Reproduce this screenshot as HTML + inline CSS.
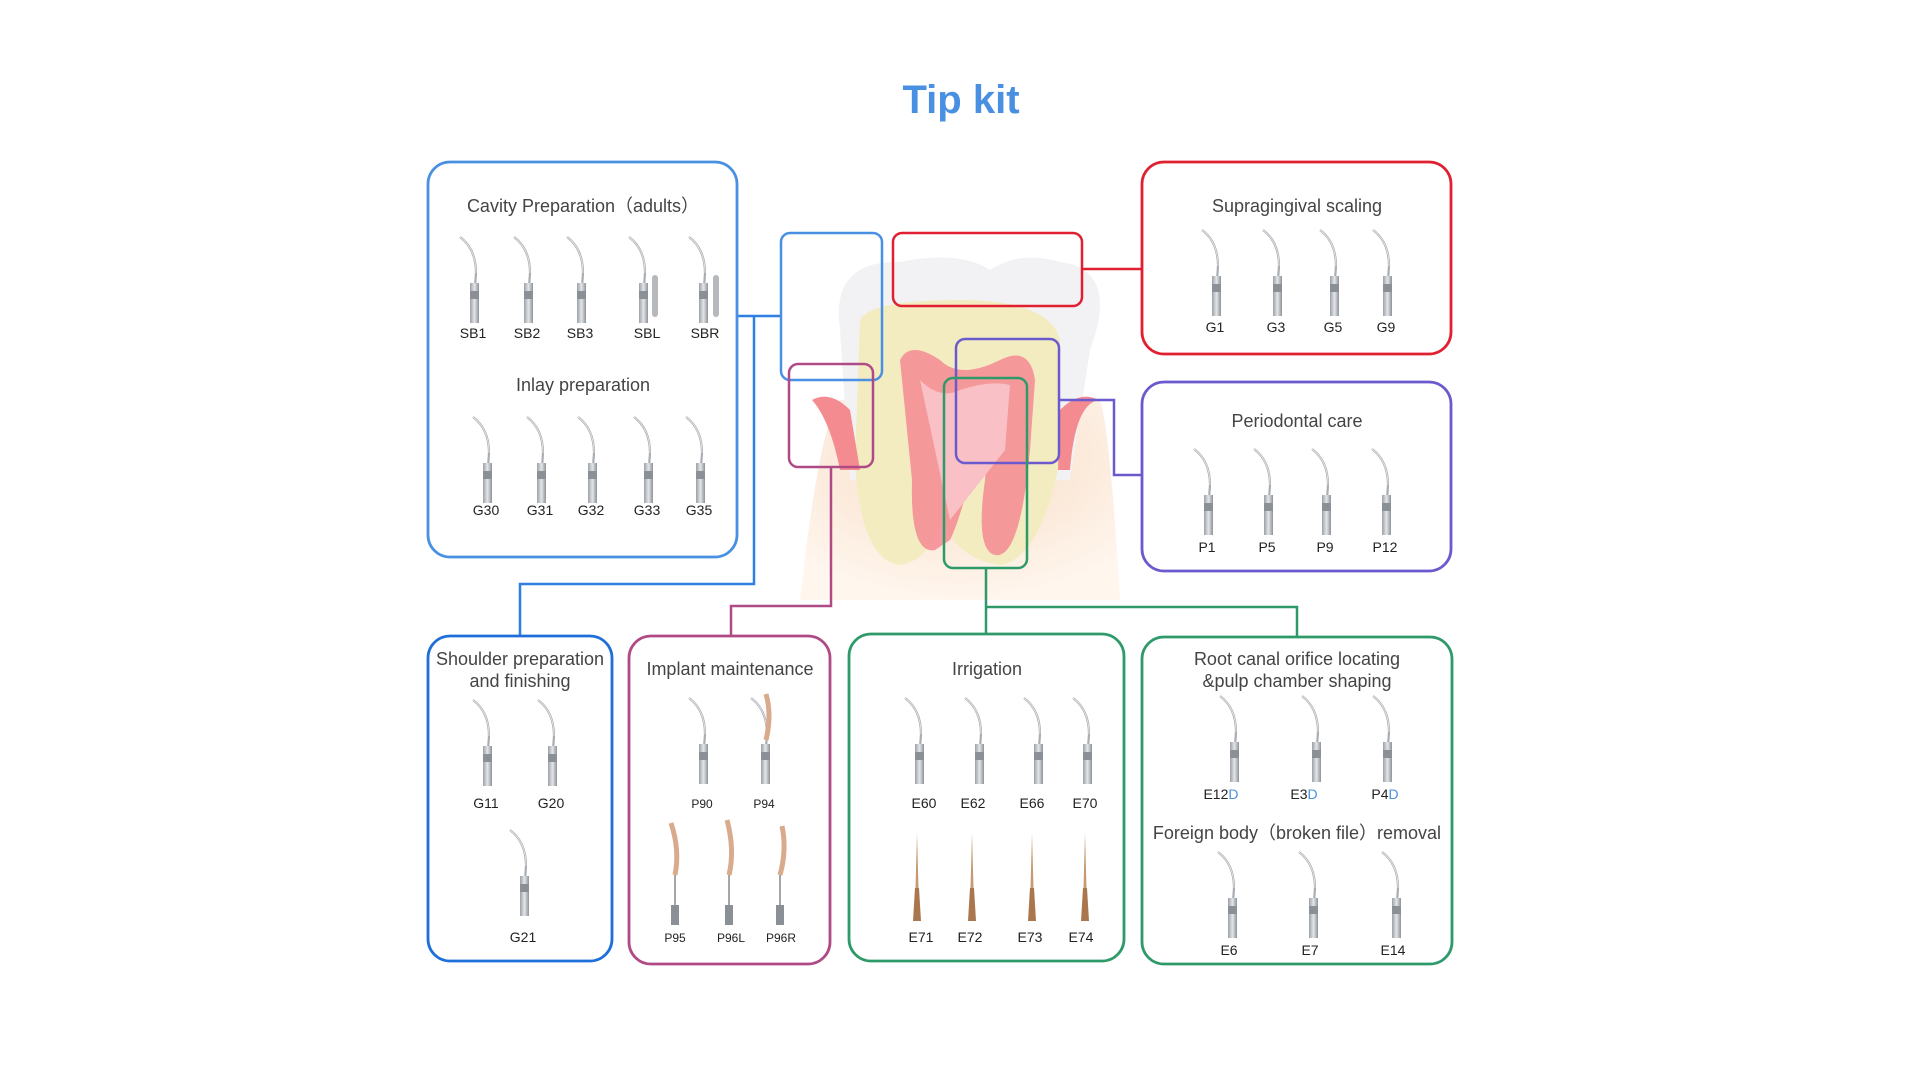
<!DOCTYPE html>
<html><head><meta charset="utf-8"><style>
html,body{margin:0;padding:0;background:#fff;width:1920px;height:1081px;overflow:hidden}
svg text{font-family:"Liberation Sans",sans-serif}
.t{font-size:18px;fill:#444;text-anchor:middle}
.l{font-size:14px;fill:#222;text-anchor:middle}
.s{font-size:12px;fill:#222;text-anchor:middle}
</style></head><body>
<svg width="1920" height="1081" viewBox="0 0 1920 1081" xmlns="http://www.w3.org/2000/svg">
<defs>
<linearGradient id="sh" x1="0" x2="1"><stop offset="0" stop-color="#9aa0a6"/><stop offset=".5" stop-color="#e4e6e8"/><stop offset="1" stop-color="#8d9399"/></linearGradient>
<symbol id="tip" viewBox="-20 0 40 90" width="40" height="90" overflow="visible">
<path d="M-13 2 Q3 14 3 38 L2 52" stroke="#a8adb2" stroke-width="2.2" fill="none"/>
<path d="M-13 2 Q3 14 3 38" stroke="#e8eaec" stroke-width="0.8" fill="none"/>
<rect x="-3" y="48" width="9" height="40" fill="url(#sh)"/>
<rect x="-3" y="56" width="9" height="8" fill="#8b9096"/>
</symbol>
<symbol id="file" viewBox="-10 0 20 90" width="20" height="90" overflow="visible">
<path d="M0 0 L1.5 55 L-1.5 55 Z" fill="#c59a72"/>
<path d="M-2 55 L2 55 L4 88 L-4 88 Z" fill="#a9764e"/>
</symbol>
<radialGradient id="bone" cx=".5" cy=".3" r=".7"><stop offset="0" stop-color="#f7dcc4"/><stop offset="1" stop-color="#fff6ee"/></radialGradient>
</defs>

<text x="961" y="113" font-size="40" font-weight="bold" fill="#4a90e2" text-anchor="middle">Tip kit</text>

<!-- tooth illustration -->
<path d="M800 600 Q820 420 840 400 L1100 400 Q1110 430 1120 600 Z" fill="url(#bone)"/>
<path d="M840 330 Q830 260 900 262 Q960 250 990 270 Q1020 250 1060 262 Q1120 270 1090 350 L1070 480 L850 480 Z" fill="#f2f2f4"/>
<path d="M860 320 Q870 300 960 300 Q1050 300 1060 340 L1060 460 Q1040 560 1000 565 Q960 560 940 520 Q930 560 900 565 Q860 560 855 460 Z" fill="#f3ecc0"/>
<path d="M900 360 Q910 340 940 360 Q960 380 1000 360 Q1030 345 1035 380 L1030 450 Q1020 560 995 555 Q975 550 985 480 Q990 430 975 460 Q960 520 950 540 L935 550 Q910 555 912 480 Z" fill="#f58a92" opacity=".85"/>
<path d="M920 380 Q940 400 960 390 Q990 380 1010 385 L1005 450 L950 520 L935 450 Z" fill="#f9c0c6"/>
<path d="M812 400 Q830 390 850 410 L860 470 L840 470 Q830 420 812 400 Z" fill="#f48b90"/>
<path d="M1060 410 Q1080 390 1098 400 Q1075 405 1070 470 L1058 470 Z" fill="#f48b90"/>

<!-- connectors -->
<g fill="none" stroke-width="2.5">
<path d="M1082 269 H1142" stroke="#e02030"/>
<path d="M737 316 H781 M754 316 V584 H520 V636" stroke="#2f7fe0"/>
<path d="M1059 400 H1114 V475 H1142" stroke="#6a5acd"/>
<path d="M831 467 V606 H731 V636" stroke="#b04a86"/>
<path d="M986 568 V634 M986 607 H1297 V637" stroke="#2e9a6a"/>
</g>

<!-- tooth small boxes -->
<g fill="none" stroke-width="2.5">
<rect x="781" y="233" width="101" height="147" rx="9" stroke="#4a90e2"/>
<rect x="893" y="233" width="189" height="73" rx="9" stroke="#e02030"/>
<rect x="789" y="364" width="84" height="103" rx="9" stroke="#b04a86"/>
<rect x="956" y="339" width="103" height="124" rx="9" stroke="#6a5acd"/>
<rect x="944" y="378" width="83" height="190" rx="9" stroke="#2e9a6a"/>
</g>

<!-- main boxes -->
<g fill="none" stroke-width="2.8">
<rect x="428" y="162" width="309" height="395" rx="22" stroke="#4a90e2"/>
<rect x="1142" y="162" width="309" height="192" rx="22" stroke="#e02030"/>
<rect x="1142" y="382" width="309" height="189" rx="22" stroke="#6a5acd"/>
<rect x="428" y="636" width="184" height="325" rx="22" stroke="#1e6fd9"/>
<rect x="629" y="636" width="201" height="328" rx="22" stroke="#b04a86"/>
<rect x="849" y="634" width="275" height="327" rx="22" stroke="#2e9a6a"/>
<rect x="1142" y="637" width="310" height="327" rx="22" stroke="#2e9a6a"/>
</g>

<!-- Cavity -->
<text class="t" x="583" y="212">Cavity Preparation（adults）</text>
<use href="#tip" x="453" y="235"/><use href="#tip" x="507" y="235"/><use href="#tip" x="560" y="235"/><use href="#tip" x="622" y="235"/><use href="#tip" x="682" y="235"/>
<rect x="652" y="275" width="6" height="42" rx="3" fill="#b5b9bd"/><rect x="713" y="275" width="6" height="42" rx="3" fill="#b5b9bd"/>
<text class="l" x="473" y="338">SB1</text><text class="l" x="527" y="338">SB2</text><text class="l" x="580" y="338">SB3</text><text class="l" x="647" y="338">SBL</text><text class="l" x="705" y="338">SBR</text>
<text class="t" x="583" y="391">Inlay preparation</text>
<use href="#tip" x="466" y="415"/><use href="#tip" x="520" y="415"/><use href="#tip" x="571" y="415"/><use href="#tip" x="627" y="415"/><use href="#tip" x="679" y="415"/>
<text class="l" x="486" y="515">G30</text><text class="l" x="540" y="515">G31</text><text class="l" x="591" y="515">G32</text><text class="l" x="647" y="515">G33</text><text class="l" x="699" y="515">G35</text>

<!-- Supragingival -->
<text class="t" x="1297" y="212">Supragingival scaling</text>
<use href="#tip" x="1195" y="228"/><use href="#tip" x="1256" y="228"/><use href="#tip" x="1313" y="228"/><use href="#tip" x="1366" y="228"/>
<text class="l" x="1215" y="332">G1</text><text class="l" x="1276" y="332">G3</text><text class="l" x="1333" y="332">G5</text><text class="l" x="1386" y="332">G9</text>

<!-- Periodontal -->
<text class="t" x="1297" y="427">Periodontal care</text>
<use href="#tip" x="1187" y="447"/><use href="#tip" x="1247" y="447"/><use href="#tip" x="1305" y="447"/><use href="#tip" x="1365" y="447"/>
<text class="l" x="1207" y="552">P1</text><text class="l" x="1267" y="552">P5</text><text class="l" x="1325" y="552">P9</text><text class="l" x="1385" y="552">P12</text>

<!-- Shoulder -->
<text class="t" x="520" y="665">Shoulder preparation</text>
<text class="t" x="520" y="687">and finishing</text>
<use href="#tip" x="466" y="698"/><use href="#tip" x="531" y="698"/>
<text class="l" x="486" y="808">G11</text><text class="l" x="551" y="808">G20</text>
<use href="#tip" x="503" y="828"/>
<text class="l" x="523" y="942">G21</text>

<!-- Implant -->
<text class="t" x="730" y="675">Implant maintenance</text>
<use href="#tip" x="682" y="696"/><use href="#tip" x="744" y="696"/>
<text class="s" x="702" y="808">P90</text><text class="s" x="764" y="808">P94</text>
<path d="M766 694 Q772 715 766 740" stroke="#d9ab8c" stroke-width="5" fill="none"/>
<g stroke="#d9ab8c" stroke-width="5" fill="none"><path d="M671 823 Q680 850 675 875"/><path d="M727 820 Q735 850 729 875"/><path d="M782 826 Q787 850 780 875"/></g>
<g stroke="#888" stroke-width="1.5"><path d="M675 875 V910"/><path d="M729 875 V910"/><path d="M780 875 V910"/></g>
<g fill="#8b9096"><rect x="671" y="905" width="8" height="20"/><rect x="725" y="905" width="8" height="20"/><rect x="776" y="905" width="8" height="20"/></g>
<text class="s" x="675" y="942">P95</text><text class="s" x="731" y="942">P96L</text><text class="s" x="781" y="942">P96R</text>

<!-- Irrigation -->
<text class="t" x="987" y="675">Irrigation</text>
<use href="#tip" x="898" y="696"/><use href="#tip" x="958" y="696"/><use href="#tip" x="1017" y="696"/><use href="#tip" x="1066" y="696"/>
<text class="l" x="924" y="808">E60</text><text class="l" x="973" y="808">E62</text><text class="l" x="1032" y="808">E66</text><text class="l" x="1085" y="808">E70</text>
<use href="#file" x="907" y="833"/><use href="#file" x="962" y="833"/><use href="#file" x="1022" y="833"/><use href="#file" x="1075" y="833"/>
<text class="l" x="921" y="942">E71</text><text class="l" x="970" y="942">E72</text><text class="l" x="1030" y="942">E73</text><text class="l" x="1081" y="942">E74</text>

<!-- Root canal -->
<text class="t" x="1297" y="665">Root canal orifice locating</text>
<text class="t" x="1297" y="687">&amp;pulp chamber shaping</text>
<use href="#tip" x="1213" y="694"/><use href="#tip" x="1295" y="694"/><use href="#tip" x="1366" y="694"/>
<text class="l" x="1221" y="799">E12<tspan fill="#4a90e2">D</tspan></text><text class="l" x="1304" y="799">E3<tspan fill="#4a90e2">D</tspan></text><text class="l" x="1385" y="799">P4<tspan fill="#4a90e2">D</tspan></text>
<text class="t" x="1297" y="839">Foreign body（broken file）removal</text>
<use href="#tip" x="1211" y="850"/><use href="#tip" x="1292" y="850"/><use href="#tip" x="1375" y="850"/>
<text class="l" x="1229" y="955">E6</text><text class="l" x="1310" y="955">E7</text><text class="l" x="1393" y="955">E14</text>
</svg>
</body></html>
